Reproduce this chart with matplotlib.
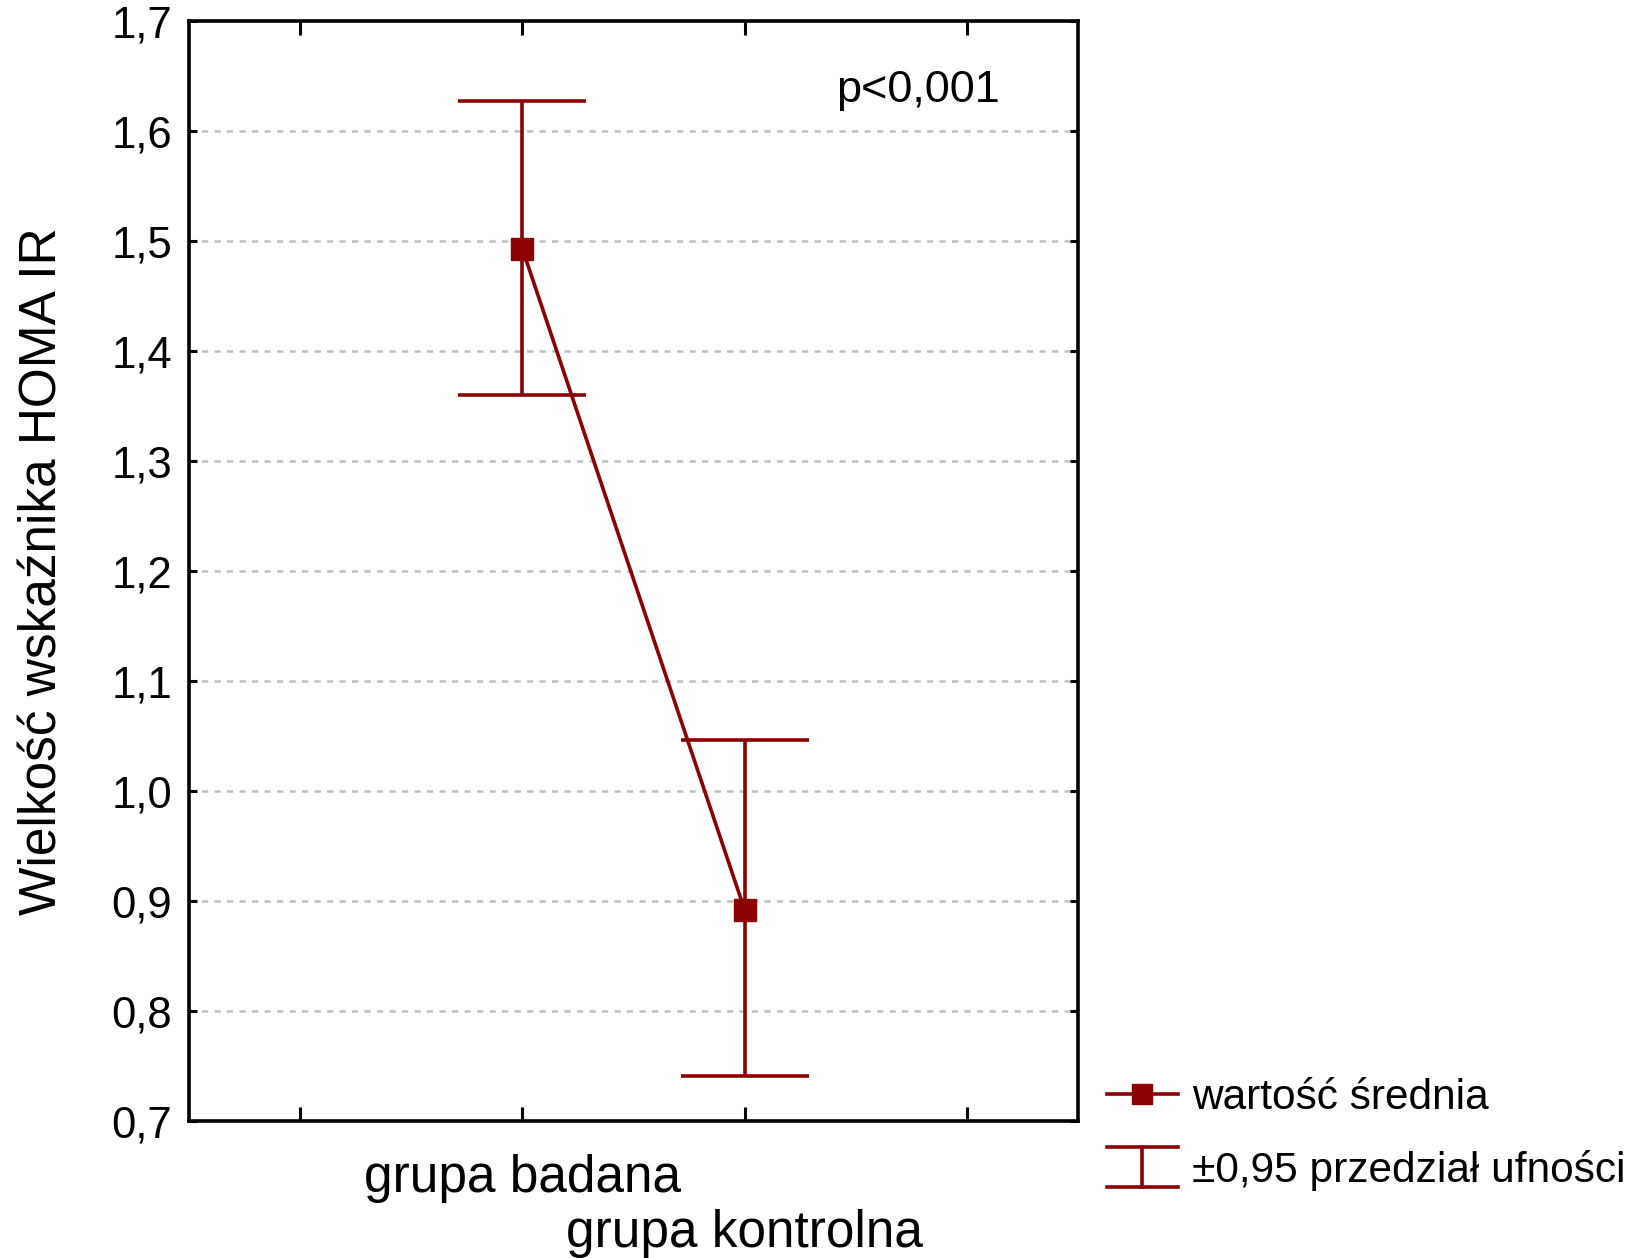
import numpy as np
import matplotlib
matplotlib.use("Agg")
import matplotlib.pyplot as plt
from matplotlib.lines import Line2D
from matplotlib.legend_handler import HandlerBase

plt.rcParams['font.family'] = ['Liberation Sans', 'DejaVu Sans']

# dane
grupy = ['grupa badana', 'grupa kontrolna']
pozycje = [1, 2]
srednia = [1.493, 0.892]
ci_dolny = [1.360, 0.741]
ci_gorny = [1.627, 1.046]
y_ticks = [0.7, 0.8, 0.9, 1.0, 1.1, 1.2, 1.3, 1.4, 1.5, 1.6, 1.7]
p_tekst = 'p<0,001'

kolor = '#8b0000'

srednia = np.array(srednia)
blad = [srednia - np.array(ci_dolny), np.array(ci_gorny) - srednia]


class HandlerCI(HandlerBase):
    # symbol przedzialu ufnosci w legendzie: "I" z szerokimi wasami
    def create_artists(self, legend, orig_handle, xdescent, ydescent,
                       width, height, fontsize, trans):
        x0 = -xdescent
        x1 = -xdescent + width
        xm = (x0 + x1) / 2
        yc = -ydescent + height / 2
        h = 0.48 * fontsize
        art = [
            Line2D([x0, x1], [yc + h, yc + h], color=kolor, lw=2.6),
            Line2D([x0, x1], [yc - h, yc - h], color=kolor, lw=2.6),
            Line2D([xm, xm], [yc - h, yc + h], color=kolor, lw=2.6),
        ]
        for a in art:
            a.set_transform(trans)
        return art


fig = plt.figure(figsize=(16.35, 12.58), dpi=100)
ax = fig.add_axes([0.1156, 0.1089, 0.5437, 0.8744])

ax.set_xlim(-0.5, 3.5)
ax.set_ylim(0.7, 1.7)

ax.set_yticks(y_ticks)
ax.set_yticklabels([('%.1f' % v).replace('.', ',') for v in y_ticks], fontsize=31.5)

# etykiety osi X naprzemiennie (druga nizej)
ax.xaxis.remove_overlapping_locs = False
ax.set_xticks([0, 1, 2, 3])
ax.set_xticklabels(['', grupy[0], '', ''], fontsize=37)
ax.set_xticks([2], minor=True)
ax.set_xticklabels([grupy[1]], minor=True, fontsize=37)

for v in y_ticks[1:-1]:
    ax.axhline(v, color='#c0c0c0', lw=1.8, dashes=(2.5, 2.5), zorder=0)

ax.errorbar(pozycje, srednia, yerr=blad, fmt='none', ecolor=kolor,
            elinewidth=2.6, capsize=46, capthick=2.6, zorder=2)
ax.plot(pozycje, srednia, color=kolor, lw=2.6, marker='s', markersize=16.5,
        zorder=3)

ax.text(2.78, 1.637, p_tekst, fontsize=32.5, ha='center', va='center')

ax.set_ylabel('Wielkość wskaźnika HOMA IR', fontsize=37, labelpad=32)

for s in ax.spines.values():
    s.set_linewidth(2.6)
ax.tick_params(axis='x', which='major', direction='in', length=10, width=2.2,
               pad=24, top=True, bottom=True)
ax.tick_params(axis='x', which='minor', direction='in', length=0, pad=63,
               top=False, bottom=True)
ax.tick_params(axis='y', direction='in', length=6, width=2.2, pad=12,
               left=True, right=True)

h_sr = Line2D([], [], color=kolor, lw=2.6, marker='s', markersize=14)
h_ci = object()
fig.legend([h_sr, h_ci], ['wartość średnia', '±0,95 przedział ufności'],
           handler_map={object: HandlerCI()},
           loc='upper left', bbox_to_anchor=(0.677, 0.143),
           frameon=False, fontsize=30.5, handlelength=1.67,
           handletextpad=0.35, labelspacing=0.75, borderpad=0,
           borderaxespad=0)

fig.savefig('out.png', dpi=100, facecolor='white')
